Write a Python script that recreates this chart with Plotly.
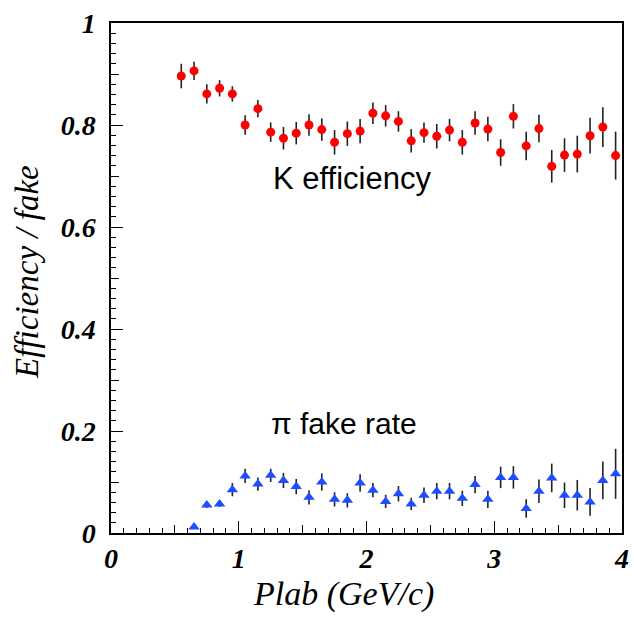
import plotly.graph_objects as go

# K efficiency (red circles)
k_p = [0.55, 0.65, 0.75, 0.85, 0.95, 1.05, 1.15, 1.25, 1.35, 1.45, 1.55, 1.65,
       1.75, 1.85, 1.95, 2.05, 2.15, 2.25, 2.35, 2.45, 2.55, 2.65, 2.75, 2.85,
       2.95, 3.05, 3.15, 3.25, 3.35, 3.45, 3.55, 3.65, 3.75, 3.85, 3.95]
k_eff = [0.896, 0.906, 0.861, 0.872, 0.861, 0.800, 0.832, 0.786, 0.774, 0.784,
         0.800, 0.791, 0.766, 0.783, 0.788, 0.823, 0.818, 0.807, 0.769, 0.785,
         0.778, 0.790, 0.766, 0.804, 0.792, 0.746, 0.817, 0.759, 0.793, 0.719,
         0.741, 0.743, 0.779, 0.796, 0.740]
k_err = [0.024, 0.018, 0.019, 0.016, 0.015, 0.019, 0.017, 0.019, 0.022, 0.022,
         0.021, 0.022, 0.024, 0.024, 0.024, 0.021, 0.021, 0.020, 0.023, 0.020,
         0.024, 0.022, 0.024, 0.023, 0.024, 0.026, 0.024, 0.028, 0.027, 0.032,
         0.033, 0.036, 0.035, 0.039, 0.047]

# pi fake rate (blue triangles)
pi_p = [0.65, 0.75, 0.85, 0.95, 1.05, 1.15, 1.25, 1.35, 1.45, 1.55, 1.65,
        1.75, 1.85, 1.95, 2.05, 2.15, 2.25, 2.35, 2.45, 2.55, 2.65, 2.75, 2.85,
        2.95, 3.05, 3.15, 3.25, 3.35, 3.45, 3.55, 3.65, 3.75, 3.85, 3.95]
pi_fake = [0.012, 0.055, 0.057, 0.085, 0.112, 0.096, 0.113, 0.103, 0.091,
           0.070, 0.100, 0.066, 0.064, 0.098, 0.084, 0.062, 0.077, 0.057,
           0.074, 0.082, 0.082, 0.068, 0.095, 0.066, 0.109, 0.109, 0.048,
           0.082, 0.108, 0.074, 0.074, 0.061, 0.103, 0.116]
pi_err = [0.004, 0.006, 0.006, 0.013, 0.014, 0.013, 0.013, 0.015, 0.015,
          0.014, 0.017, 0.014, 0.014, 0.017, 0.014, 0.013, 0.015, 0.012,
          0.015, 0.016, 0.016, 0.015, 0.017, 0.017, 0.021, 0.022, 0.018,
          0.023, 0.028, 0.025, 0.030, 0.027, 0.037, 0.049]

x_range = [0, 4]
y_range = [0, 1]

W, H = 634, 618
ML, MR, MT, MB = 111, 12, 23, 85

fig = go.Figure()
fig.add_trace(go.Scatter(
    x=k_p, y=k_eff, mode="markers",
    marker=dict(symbol="circle", size=9, color="#ff0000"),
    error_y=dict(type="data", array=k_err, width=0, thickness=1.6, color="#222222"),
    showlegend=False, name="K efficiency"))
fig.add_trace(go.Scatter(
    x=pi_p, y=pi_fake, mode="markers",
    marker=dict(symbol="triangle-up", size=10, color="#1f4cff"),
    error_y=dict(type="data", array=pi_err, width=0, thickness=1.6, color="#222222"),
    showlegend=False, name="pi fake rate"))
# empty trace to host the secondary (medium tick) axes
fig.add_trace(go.Scatter(x=[], y=[], xaxis="x2", yaxis="y2", showlegend=False,
                         hoverinfo="skip"))

tickfont = dict(family="Liberation Serif", size=28, color="black",
                style="italic", weight="bold")

fig.update_layout(
    width=W, height=H,
    margin=dict(l=ML, r=MR, t=MT, b=MB, autoexpand=False),
    paper_bgcolor="white", plot_bgcolor="white",
    xaxis=dict(range=x_range, showgrid=False, zeroline=False, automargin=False,
               showline=True, linecolor="black", linewidth=1.5, mirror=True,
               ticks="inside", tickcolor="black", ticklen=12, tickwidth=1.2,
               tick0=0, dtick=1, tickfont=tickfont, ticklabelstandoff=0,
               minor=dict(ticks="inside", dtick=0.1, tick0=0, ticklen=5,
                          tickcolor="black", tickwidth=1.2, showgrid=False)),
    yaxis=dict(range=y_range, showgrid=False, zeroline=False, automargin=False,
               showline=True, linecolor="black", linewidth=1.5, mirror=True,
               ticks="inside", tickcolor="black", ticklen=12, tickwidth=1.2,
               tick0=0, dtick=0.2, tickfont=tickfont, ticklabelstandoff=8,
               minor=dict(ticks="inside", dtick=0.02, tick0=0, ticklen=5,
                          tickcolor="black", tickwidth=1.2, showgrid=False)),
    xaxis2=dict(range=x_range, overlaying="x", anchor="y", side="bottom",
                showgrid=False, zeroline=False, showline=False, automargin=False,
                ticks="inside", tickcolor="black", ticklen=8, tickwidth=1.2,
                tick0=0, dtick=0.5, showticklabels=False),
    yaxis2=dict(range=y_range, overlaying="y", anchor="x", side="left",
                showgrid=False, zeroline=False, showline=False, automargin=False,
                ticks="inside", tickcolor="black", ticklen=8, tickwidth=1.2,
                tick0=0, dtick=0.1, showticklabels=False),
    annotations=[
        dict(text="K efficiency", x=1.89, y=0.695, xref="x", yref="y",
             showarrow=False, xanchor="center", yanchor="middle",
             font=dict(family="Liberation Sans", size=31, color="black")),
        dict(text="π fake rate", x=1.82, y=0.215, xref="x", yref="y",
             showarrow=False, xanchor="center", yanchor="middle",
             font=dict(family="Liberation Sans", size=30, color="black")),
        dict(text="Plab (GeV/c)", x=0.455, y=0, xref="paper", yref="paper",
             showarrow=False, xanchor="center", yanchor="middle", yshift=-61,
             font=dict(family="Liberation Serif", size=34, color="black",
                       style="italic")),
        dict(text="Efficiency / fake", x=0, y=0.512, xref="paper", yref="paper",
             showarrow=False, xanchor="center", yanchor="middle", xshift=-84,
             textangle=-90,
             font=dict(family="Liberation Serif", size=33, color="black",
                       style="italic")),
    ],
)

fig.write_html("out.html",
               config={"displayModeBar": False},
               post_script="document.body.style.margin='0';"
                           "document.body.style.overflow='hidden';")
